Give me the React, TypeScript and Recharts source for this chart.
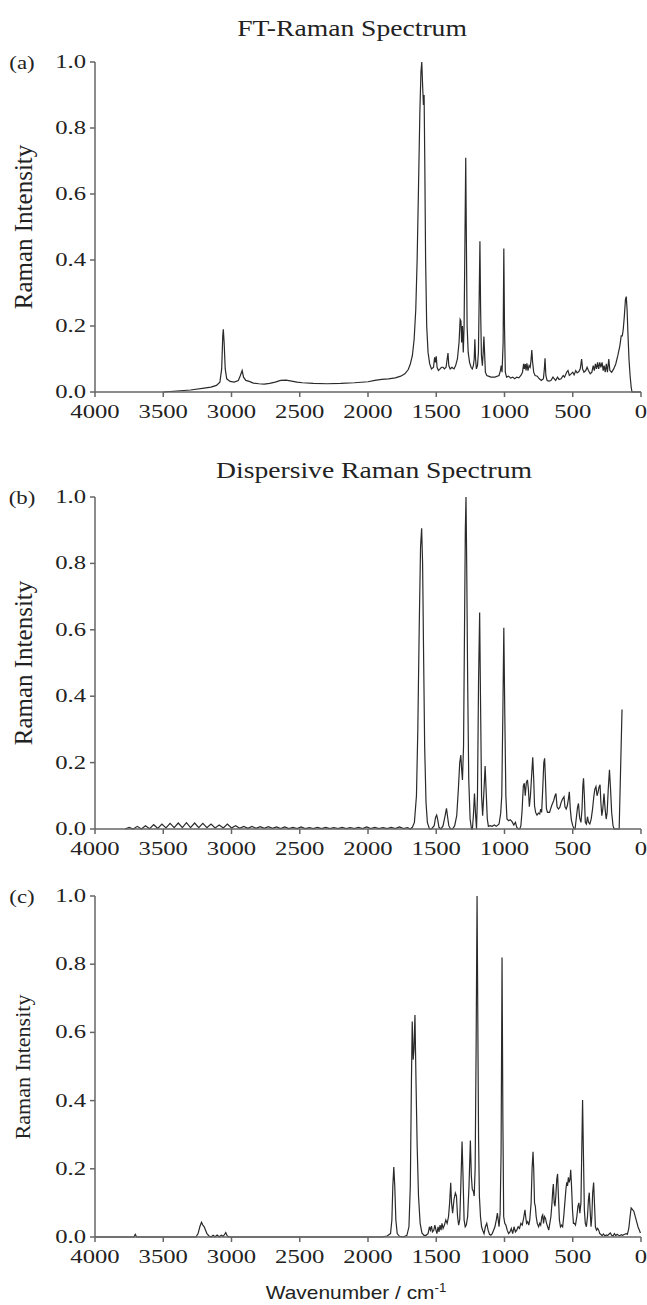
import React from 'react'
import { LineChart, Line, XAxis, YAxis } from 'recharts'

// (a) FT-Raman spectrum, wavenumber (cm-1) and relative intensity
const ftWavenumber = [
  3500, 3400, 3300, 3200, 3150, 3110,
  3085, 3072, 3064, 3060, 3054, 3046, 3035, 3010,
  2980, 2950, 2935, 2922, 2912, 2895, 2870, 2840, 2800, 2760,
  2720, 2680, 2640, 2600, 2560, 2520, 2480, 2400, 2300, 2200,
  2100, 2000, 1950, 1900, 1850, 1800, 1760, 1730, 1705, 1690,
  1675, 1662, 1650, 1640, 1630, 1620, 1612, 1606, 1600, 1594,
  1589, 1584, 1578, 1570, 1560, 1548, 1535, 1520, 1512, 1506,
  1500, 1494, 1484, 1472, 1462, 1450, 1440, 1428, 1420, 1414,
  1408, 1398, 1385, 1370, 1358, 1345, 1333, 1325, 1319, 1314,
  1308, 1302, 1296, 1290, 1284, 1279, 1274, 1266, 1256, 1245,
  1236, 1228, 1222, 1217, 1212, 1206, 1198, 1191, 1185, 1180,
  1175, 1169, 1162, 1156, 1151, 1146, 1140, 1130, 1118, 1100,
  1070, 1040, 1030, 1024, 1018, 1010, 1005, 1000, 994, 985,
  970, 955, 940, 925, 910, 895, 880, 868, 860, 854,
  848, 842, 836, 828, 820, 812, 806, 800, 794, 786,
  776, 760, 745, 730, 715, 708, 703, 697, 688, 675,
  660, 645, 635, 625, 612, 600, 585, 570, 560, 545,
  535, 525, 512, 500, 490, 478, 468, 455, 445, 435,
  428, 418, 405, 395, 385, 372, 360, 350, 342, 334,
  326, 318, 310, 302, 294, 285, 277, 270, 262, 254,
  246, 236, 228, 215, 200, 185, 170, 155, 145, 137,
  130, 122, 114, 108, 102, 96, 88, 80, 72, 66, 40, 0,
]
const ftIntensity = [
  0, 0.003, 0.006, 0.012, 0.015, 0.02,
  0.03, 0.07, 0.17, 0.19, 0.15, 0.07, 0.04, 0.032,
  0.03, 0.035, 0.05, 0.065, 0.045, 0.035, 0.032, 0.027, 0.025, 0.024,
  0.026, 0.03, 0.035, 0.036, 0.033, 0.03, 0.028, 0.026, 0.025, 0.026,
  0.028, 0.031, 0.035, 0.038, 0.04, 0.043, 0.048, 0.055, 0.068, 0.085,
  0.11, 0.16, 0.25, 0.4, 0.62, 0.85, 0.97, 1.0, 0.93, 0.87,
  0.9, 0.7, 0.4, 0.2, 0.12, 0.085, 0.07, 0.075, 0.105, 0.09,
  0.108, 0.075, 0.065, 0.07, 0.075, 0.075, 0.07, 0.075, 0.1, 0.118,
  0.08, 0.07, 0.075, 0.07, 0.08, 0.1, 0.15, 0.22, 0.215, 0.15,
  0.2, 0.12, 0.2, 0.45, 0.71, 0.45, 0.2, 0.12, 0.09, 0.075,
  0.07, 0.08, 0.1, 0.16, 0.1, 0.07, 0.08, 0.12, 0.3, 0.457,
  0.25, 0.11, 0.08, 0.12, 0.168, 0.12, 0.06, 0.05, 0.048, 0.045,
  0.045, 0.05, 0.065, 0.08, 0.06, 0.15, 0.435, 0.2, 0.06, 0.045,
  0.048, 0.042, 0.045, 0.04, 0.045, 0.043, 0.05, 0.06, 0.085, 0.07,
  0.085, 0.065, 0.087, 0.065, 0.08, 0.075, 0.095, 0.127, 0.09, 0.06,
  0.05, 0.048, 0.04, 0.035, 0.04, 0.07, 0.102, 0.05, 0.035, 0.033,
  0.035, 0.045, 0.04, 0.035, 0.045, 0.038, 0.04, 0.05, 0.045, 0.06,
  0.065, 0.05, 0.055, 0.06, 0.052, 0.065, 0.058, 0.062, 0.07, 0.1,
  0.07, 0.06, 0.065, 0.075, 0.065, 0.055, 0.06, 0.08, 0.065, 0.085,
  0.07, 0.09, 0.07, 0.09, 0.075, 0.09, 0.065, 0.08, 0.06, 0.085,
  0.06, 0.1, 0.065, 0.06, 0.07, 0.085, 0.11, 0.14, 0.17, 0.17,
  0.19, 0.23, 0.28, 0.289, 0.25, 0.18, 0.1, 0.05, 0.015, 0, 0, 0,
]

// (b) dispersive Raman spectrum
const dispWavenumber = [
  3780, 3750, 3720, 3690, 3660, 3630, 3600, 3570, 3540, 3510,
  3480, 3450, 3420, 3390, 3360, 3330, 3300, 3270, 3240, 3210,
  3180, 3150, 3120, 3090, 3060, 3030, 3000, 2970, 2940, 2910,
  2880, 2850, 2820, 2790, 2760, 2730, 2700, 2670, 2640, 2610,
  2580, 2550, 2520, 2490, 2460, 2430, 2400, 2370, 2340, 2310,
  2280, 2250, 2220, 2190, 2160, 2130, 2100, 2070, 2040, 2010,
  1980, 1950, 1920, 1890, 1860, 1830, 1800, 1770, 1740, 1710,
  1690, 1675, 1660, 1645, 1635, 1625, 1615, 1607, 1600, 1592,
  1585, 1575, 1565, 1550, 1535, 1515, 1505, 1497, 1490, 1480,
  1465, 1450, 1435, 1425, 1418, 1408, 1395, 1380, 1365, 1350,
  1338, 1328, 1320, 1314, 1308, 1300, 1293, 1287, 1282, 1277,
  1270, 1262, 1252, 1242, 1235, 1228, 1220, 1213, 1205, 1198,
  1190, 1182, 1176, 1168, 1160, 1150, 1142, 1135, 1126, 1118,
  1105, 1090, 1075, 1060, 1040, 1028, 1020, 1012, 1005, 998,
  990, 982, 970, 958, 945, 932, 920, 910, 898, 888,
  880, 872, 862, 855, 848, 840, 832, 825, 818, 810,
  800, 793, 786, 780, 772, 762, 752, 742, 735, 728,
  720, 712, 706, 700, 693, 685, 670, 655, 640, 630,
  623, 615, 605, 595, 585, 575, 564, 557, 548, 540,
  532, 525, 518, 510, 500, 490, 483, 472, 465, 458,
  450, 440, 432, 426, 421, 415, 408, 400, 392, 385,
  375, 365, 355, 345, 338, 330, 322, 315, 308, 300,
  294, 287, 280, 271, 263, 255, 248, 240, 231, 223,
  215, 205, 197, 180, 160, 139,
]
const dispIntensity = [
  0, 0.005, 0, 0.008, 0, 0.01, 0.001, 0.013, 0.002, 0.015,
  0.003, 0.017, 0.004, 0.018, 0.004, 0.019, 0.004, 0.018, 0.004, 0.017,
  0.004, 0.015, 0.003, 0.012, 0.003, 0.015, 0.003, 0.01, 0.002, 0.008,
  0.002, 0.008, 0.002, 0.007, 0.002, 0.007, 0.002, 0.006, 0.001, 0.006,
  0.001, 0.005, 0.001, 0.006, 0.001, 0.004, 0.001, 0.005, 0.001, 0.005,
  0.001, 0.004, 0.001, 0.005, 0.001, 0.004, 0.001, 0.005, 0.001, 0.006,
  0.001, 0.005, 0.001, 0.004, 0.001, 0.005, 0.001, 0.006, 0.001, 0.004,
  0, 0.005, 0.02, 0.1, 0.3, 0.6, 0.85, 0.906, 0.8, 0.5,
  0.25, 0.08, 0.02, 0, 0, 0.01, 0.035, 0.042, 0.03, 0.005,
  0, 0.01, 0.04, 0.062, 0.04, 0.01, 0, 0, 0.01, 0.04,
  0.12, 0.2, 0.223, 0.18, 0.148, 0.25, 0.6, 0.9, 1.0, 0.8,
  0.45, 0.15, 0.03, 0, 0, 0.04, 0.107, 0.05, 0, 0.1,
  0.45, 0.652, 0.4, 0.1, 0.04, 0.12, 0.19, 0.12, 0.03, 0.008,
  0.01, 0.008, 0.012, 0.008, 0.015, 0.047, 0.1, 0.35, 0.606, 0.35,
  0.1, 0.03, 0.025, 0.028, 0.022, 0.012, 0.02, 0.005, 0, 0,
  0.01, 0.05, 0.13, 0.138, 0.1, 0.14, 0.148, 0.12, 0.067, 0.1,
  0.17, 0.216, 0.15, 0.07, 0.05, 0.042, 0.048, 0.045, 0.06, 0.05,
  0.12, 0.2, 0.213, 0.15, 0.062, 0.05, 0.05, 0.07, 0.085, 0.1,
  0.107, 0.067, 0.06, 0.065, 0.08, 0.09, 0.097, 0.067, 0.06, 0.07,
  0.09, 0.112, 0.06, 0.027, 0.01, 0, 0, 0.04, 0.065, 0.077,
  0.035, 0.02, 0.06, 0.13, 0.153, 0.1, 0.02, 0.015, 0.037, 0.02,
  0.015, 0.03, 0.06, 0.1, 0.12, 0.128, 0.1, 0.11, 0.125, 0.133,
  0.08, 0.04, 0.06, 0.107, 0.06, 0.03, 0.05, 0.12, 0.178, 0.12,
  0.05, 0.01, 0, 0, 0, 0.36,
]

// (c) calculated spectrum
const calcWavenumber = [
  4000, 3715, 3705, 3695, 3260, 3245, 3232, 3220, 3210, 3200,
  3190, 3180, 3165, 3150, 3135, 3120, 3105, 3090, 3075, 3060,
  3050, 3042, 3032, 3020, 1900, 1860, 1835, 1825, 1818, 1811,
  1804, 1796, 1786, 1770, 1740, 1715, 1700, 1690, 1682, 1676,
  1669, 1663, 1656, 1648, 1640, 1630, 1618, 1605, 1590, 1575,
  1560, 1550, 1543, 1535, 1528, 1518, 1510, 1502, 1495, 1487,
  1480, 1472, 1465, 1458, 1450, 1440, 1430, 1420, 1410, 1402,
  1394, 1388, 1380, 1370, 1360, 1352, 1344, 1336, 1328, 1320,
  1311, 1304, 1296, 1288, 1280, 1270, 1260, 1250, 1243, 1236,
  1229, 1222, 1215, 1208, 1201, 1195, 1190, 1184, 1176, 1168,
  1160, 1150, 1140, 1130, 1120, 1110, 1100, 1090, 1080, 1070,
  1060, 1052, 1046, 1040, 1032, 1025, 1018, 1012, 1006, 998,
  990, 980, 970, 960, 950, 940, 930, 920, 910, 900,
  890, 880, 870, 860, 850, 845, 838, 830, 822, 815,
  805, 798, 791, 786, 780, 774, 768, 760, 750, 742,
  735, 726, 720, 714, 707, 700, 692, 684, 676, 668,
  660, 652, 646, 642, 636, 630, 624, 617, 611, 605,
  598, 590, 582, 574, 566, 558, 550, 544, 538, 532,
  526, 520, 515, 509, 502, 495, 488, 480, 470, 462,
  455, 448, 440, 434, 428, 422, 415, 408, 400, 392,
  385, 379, 373, 366, 360, 354, 347, 341, 334, 326,
  318, 310, 302, 295, 285, 275, 265, 255, 245, 235,
  225, 215, 205, 195, 185, 175, 165, 155, 145, 135,
  120, 108, 100, 92, 88, 80, 72, 62, 52, 42,
  32, 22, 12, 4,
]
const calcIntensity = [
  0, 0, 0.008, 0, 0, 0.01, 0.03, 0.043, 0.035, 0.03,
  0.02, 0.01, 0.003, 0, 0.005, 0.001, 0.006, 0.001, 0.005, 0.002,
  0.008, 0.013, 0.004, 0, 0, 0.003, 0.01, 0.05, 0.15, 0.205,
  0.15, 0.05, 0.01, 0.002, 0, 0.005, 0.03, 0.15, 0.45, 0.632,
  0.52, 0.55, 0.651, 0.45, 0.27, 0.12, 0.04, 0.012, 0.005, 0.005,
  0.01, 0.03, 0.02, 0.032, 0.015, 0.02, 0.035, 0.02, 0.01, 0.03,
  0.015, 0.035, 0.02, 0.04, 0.025, 0.035, 0.05, 0.04, 0.06, 0.1,
  0.159, 0.1, 0.07, 0.11, 0.129, 0.12, 0.06, 0.035, 0.05, 0.15,
  0.28, 0.18, 0.05, 0.03, 0.035, 0.06, 0.15, 0.283, 0.18, 0.14,
  0.135, 0.12, 0.2, 0.55, 1.0, 0.6, 0.29, 0.12, 0.06, 0.03,
  0.02, 0.01, 0.03, 0.04, 0.02, 0.008, 0.005, 0.01, 0.02, 0.03,
  0.05, 0.07, 0.05, 0.03, 0.07, 0.25, 0.82, 0.35, 0.06, 0.04,
  0.035, 0.02, 0.01, 0.015, 0.025, 0.01, 0.03, 0.015, 0.02, 0.03,
  0.025, 0.04, 0.035, 0.055, 0.08, 0.06, 0.04, 0.045, 0.035, 0.05,
  0.1, 0.2, 0.25, 0.2, 0.1, 0.09, 0.06, 0.04, 0.03, 0.04,
  0.035, 0.06, 0.065, 0.04, 0.06, 0.055, 0.04, 0.03, 0.02, 0.04,
  0.06, 0.1, 0.14, 0.155, 0.1, 0.09, 0.12, 0.17, 0.185, 0.12,
  0.05, 0.03, 0.035, 0.03, 0.06, 0.1, 0.14, 0.16, 0.15, 0.175,
  0.16, 0.17, 0.197, 0.15, 0.08, 0.04, 0.04, 0.035, 0.06, 0.09,
  0.1, 0.07, 0.1, 0.25, 0.402, 0.25, 0.08, 0.04, 0.03, 0.06,
  0.11, 0.13, 0.08, 0.03, 0.06, 0.13, 0.16, 0.1, 0.03, 0.02,
  0.025, 0.02, 0.01, 0.008, 0.004, 0.009, 0.003, 0.006, 0.004, 0.008,
  0.012, 0.005, 0.003, 0.01, 0.004, 0.008, 0.005, 0.004, 0.007, 0.005,
  0.008, 0.01, 0.008, 0.02, 0.03, 0.06, 0.085, 0.08, 0.075, 0.06,
  0.045, 0.03, 0.02, 0.012,
]

const xTicks = [4000, 3500, 3000, 2500, 2000, 1500, 1000, 500, 0]
const yTicks = [0, 0.2, 0.4, 0.6, 0.8, 1.0]

const serif = '"Liberation Serif", "Times New Roman", serif'
const axisColor = '#666'
const lineColor = '#2a2a2a'

const toRows = (wn: number[], vals: number[]) => wn.map((w, i) => ({ wn: w, v: vals[i] }))

function XTick({ x, y, payload }: any) {
  return (
    <text transform={`translate(${x},${y + 19}) scale(1.3,1)`} textAnchor="middle"
      fontFamily={serif} fontSize={19} fill="#222">
      {payload.value}
    </text>
  )
}

function YTick({ x, y, payload }: any) {
  return (
    <text transform={`translate(${x - 2},${y + 6}) scale(1.3,1)`} textAnchor="end"
      fontFamily={serif} fontSize={19} fill="#222">
      {Number(payload.value).toFixed(1)}
    </text>
  )
}

function Panel({ wn, vals, top, height, marginTop }: { wn: number[]; vals: number[]; top: number; height: number; marginTop: number }) {
  return (
    <div style={{ position: 'absolute', left: 0, top }}>
      <LineChart width={647} height={height} data={toRows(wn, vals)}
        margin={{ top: marginTop, right: 6, bottom: 8, left: 35 }}>
        <XAxis type="number" dataKey="wn" domain={[0, 4000]} ticks={xTicks} reversed allowDataOverflow
          interval={0} height={30} tickSize={5} stroke={axisColor} strokeWidth={1.5} tick={<XTick />} />
        <YAxis type="number" domain={[0, 1]} ticks={yTicks} interval={0} width={60} tickSize={5}
          stroke={axisColor} strokeWidth={1.5} tick={<YTick />} />
        <Line dataKey="v" type="linear" stroke={lineColor} strokeWidth={1.2} dot={false}
          activeDot={false} isAnimationActive={false} />
      </LineChart>
    </div>
  )
}

function Txt({ x, y, size, children, sx = 1, rotate = 0, family = serif }: any) {
  return (
    <div style={{
      position: 'absolute', left: x, top: y, fontFamily: family, fontSize: size, lineHeight: 1,
      whiteSpace: 'nowrap', color: '#222',
      transform: `translate(-50%, -50%) rotate(${rotate}deg) scale(${sx}, 1)`,
    }}>
      {children}
    </div>
  )
}

export default function App() {
  return (
    <div style={{ position: 'absolute', left: 0, top: 0, width: 647, height: 1305, background: '#fff', overflow: 'hidden' }}>
      <Panel wn={ftWavenumber} vals={ftIntensity} top={0} height={430} marginTop={62} />
      <Panel wn={dispWavenumber} vals={dispIntensity} top={430} height={437} marginTop={67} />
      <Panel wn={calcWavenumber} vals={calcIntensity} top={867} height={408} marginTop={29} />

      <Txt x={352} y={28} size={24} sx={1.15}>FT-Raman Spectrum</Txt>
      <Txt x={374} y={470} size={24} sx={1.15}>Dispersive Raman Spectrum</Txt>

      <Txt x={22} y={62} size={19} sx={1.2}>(a)</Txt>
      <Txt x={22} y={497} size={19} sx={1.2}>(b)</Txt>
      <Txt x={22} y={896} size={19} sx={1.2}>(c)</Txt>

      <Txt x={23} y={227} size={25} rotate={-90}>Raman Intensity</Txt>
      <Txt x={23} y={663} size={25} rotate={-90}>Raman Intensity</Txt>
      <Txt x={23} y={1067} size={22} rotate={-90}>Raman Intensity</Txt>

      <Txt x={356} y={1292} size={19} sx={1.1} family='"Liberation Sans", Arial, sans-serif'>
        Wavenumber / cm<sup style={{ fontSize: 12 }}>-1</sup>
      </Txt>
    </div>
  )
}
